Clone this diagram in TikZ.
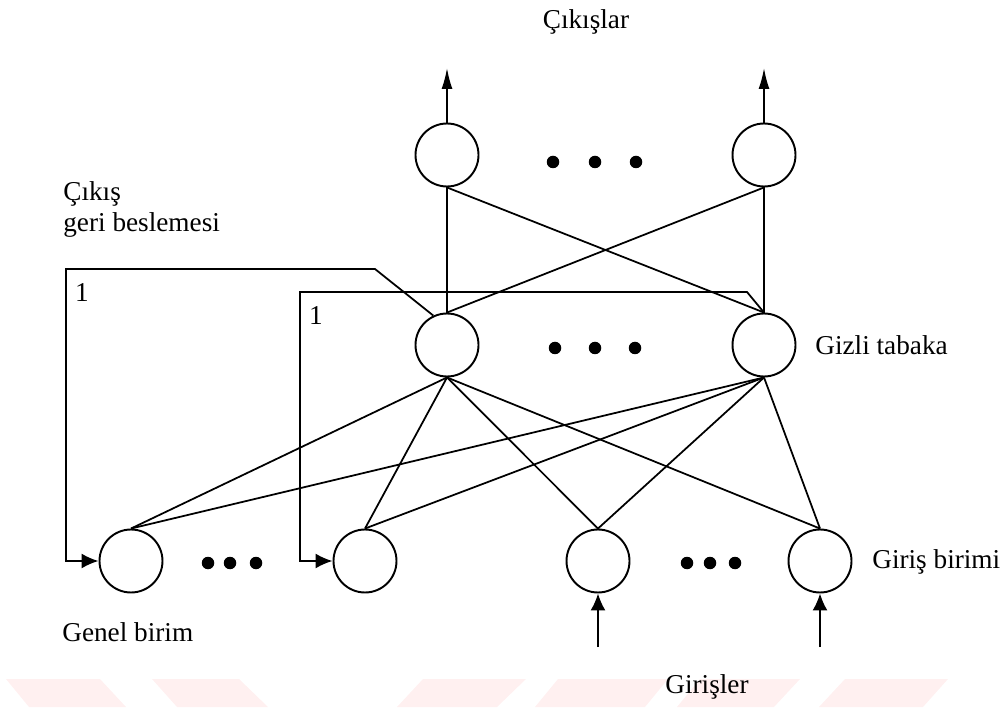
\documentclass[tikz,border=0pt]{standalone}
\usepackage{fontspec}
\setmainfont{Liberation Serif}
\usetikzlibrary{arrows.meta}

\tikzset{
  unit/.style   = {draw, circle, line width=1.1pt, minimum size=1.26cm, inner sep=0pt},
  link/.style   = {line width=1pt},
  tip/.style    = {line width=1pt, -{Latex[length=0.34cm, width=0.3cm]}},
  outtip/.style = {line width=1pt, -{Latex[length=0.42cm, width=0.22cm]}},
  dot/.style    = {fill, circle, inner sep=0pt, minimum size=0.25cm},
  lbl/.style    = {font=\fontsize{15.5}{19}\selectfont, inner sep=0pt},
}

\begin{document}
\begin{tikzpicture}
  \useasboundingbox (0,0) rectangle (20.12,14.14);

  % faint band at the foot of the page
  \foreach \a/\b/\c/\d in {0.12/2.00/2.52/0.58, 3.04/4.78/5.36/3.54,
                           8.46/10.52/9.94/7.94, 11.16/13.36/12.90/10.70,
                           14.00/16.00/15.48/13.54, 16.90/18.96/18.46/16.38}
    \fill [red!6] (\a,0.56) -- (\b,0.56) -- (\c,0) -- (\d,0) -- cycle;

  % output layer
  \node [unit] (o1) at (8.94,11.04)  {};
  \node [unit] (o2) at (15.28,11.04) {};
  % hidden layer
  \node [unit] (h1) at (8.94,7.24)   {};
  \node [unit] (h2) at (15.28,7.24)  {};
  % context and input units
  \node [unit] (c1) at (2.62,2.92)   {};
  \node [unit] (c2) at (7.30,2.92)   {};
  \node [unit] (x1) at (11.96,2.92)  {};
  \node [unit] (x2) at (16.40,2.92)  {};

  % dots between units
  \foreach \x in {11.06,11.90,12.72} \node [dot] at (\x,10.90) {};
  \foreach \x in {11.10,11.90,12.70} \node [dot] at (\x,7.18)  {};
  \foreach \x in {4.16,4.60,5.12}    \node [dot] at (\x,2.88)  {};
  \foreach \x in {13.74,14.20,14.70} \node [dot] at (\x,2.88)  {};

  % output arrows
  \coordinate (up1) at (8.94,12.78);
  \coordinate (up2) at (15.28,12.78);
  \draw [outtip] (o1.north) -- (up1);
  \draw [outtip] (o2.north) -- (up2);

  % hidden -> output
  \foreach \h in {h1,h2}
    \foreach \o in {o1,o2}
      \draw [link] (\h.north) -- (\o.south);

  % units below -> hidden
  \foreach \h in {h1,h2}
    \foreach \u in {c1,c2,x1,x2}
      \draw [link] (\u.north) -- (\h.south);

  % external inputs
  \coordinate (in1) at (11.96,1.20);
  \coordinate (in2) at (16.40,1.20);
  \draw [tip] (in1) -- (x1.south);
  \draw [tip] (in2) -- (x2.south);

  % feedback loops, weight 1
  \draw [tip] (h1.115) -- (7.50,8.76) -- (1.32,8.76) |- (c1.west);
  \draw [tip] (h2.north) -- (14.94,8.30) -- (6.00,8.30) |- (c2.west);
  \node [lbl] (w1) at (1.64,8.28) {1};
  \node [lbl] (w2) at (6.32,7.82) {1};

  % labels
  \node [lbl] (tout) at (11.72,13.70) {Çıkışlar};
  \node [lbl, anchor=west, align=left] (tfb) at (1.26,9.95)
        {Çıkış\\[-1pt]geri beslemesi};
  \node [lbl, anchor=west] (thid) at (16.30,7.24) {Gizli tabaka};
  \node [lbl, anchor=west] (tinu) at (17.44,2.90) {Giriş birimi};
  \node [lbl, anchor=west] (tctx) at (1.24,1.50)  {Genel birim};
  \node [lbl] (tin) at (14.14,0.40) {Girişler};
\end{tikzpicture}
\end{document}
